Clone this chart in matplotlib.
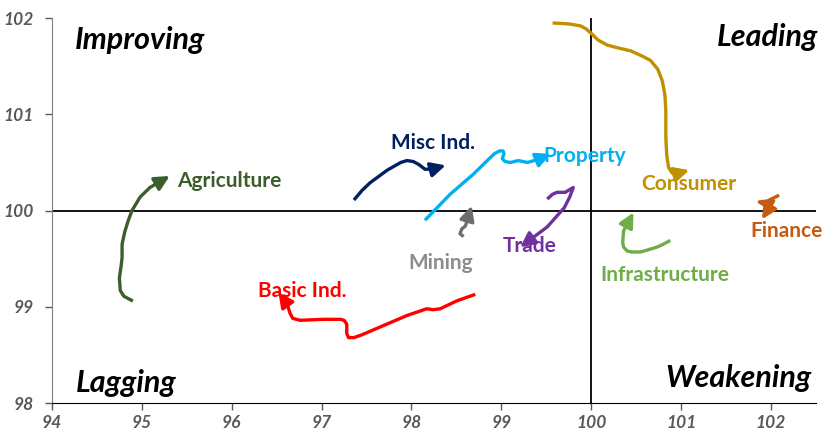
import matplotlib
matplotlib.use("Agg")
import matplotlib.pyplot as plt

# trails (x = RS-ratio, y = RS-momentum), last point is the arrow tip
agri_x = [94.90, 94.80, 94.76, 94.75, 94.77, 94.78, 94.78, 94.81, 94.85, 94.89, 94.98, 95.09, 95.31]
agri_y = [99.06, 99.11, 99.17, 99.30, 99.43, 99.51, 99.65, 99.78, 99.90, 100.00, 100.14, 100.24, 100.36]

basic_x = [98.71, 98.50, 98.32, 98.24, 98.17, 97.95, 97.65, 97.45, 97.36, 97.30, 97.28, 97.28, 97.25,
           97.21, 97.02, 96.76, 96.68, 96.65, 96.62, 96.52]
basic_y = [99.13, 99.06, 98.98, 98.97, 98.98, 98.91, 98.79, 98.71, 98.68, 98.68, 98.72, 98.82, 98.86,
           98.87, 98.87, 98.86, 98.88, 98.93, 99.02, 99.15]

misc_x = [97.36, 97.45, 97.54, 97.73, 97.88, 97.95, 98.02, 98.08, 98.15, 98.23, 98.38]
misc_y = [100.11, 100.21, 100.29, 100.42, 100.50, 100.52, 100.51, 100.48, 100.43, 100.43, 100.47]

prop_x = [98.15, 98.43, 98.69, 98.92, 98.98, 99.02, 99.03, 99.01, 99.04, 99.10, 99.19, 99.29, 99.40, 99.55]
prop_y = [99.90, 100.17, 100.38, 100.59, 100.62, 100.62, 100.59, 100.54, 100.51, 100.50, 100.52, 100.50, 100.53, 100.59]

mining_x = [98.58, 98.54, 98.56, 98.60, 98.62, 98.67]
mining_y = [99.73, 99.76, 99.81, 99.84, 99.90, 100.05]

trade_x = [99.51, 99.57, 99.62, 99.71, 99.80, 99.76, 99.70, 99.51, 99.21]
trade_y = [100.12, 100.17, 100.19, 100.19, 100.24, 100.14, 100.03, 99.83, 99.62]

cons_x = [99.57, 99.75, 99.88, 99.94, 99.99, 100.08, 100.18, 100.30, 100.44, 100.58, 100.66, 100.74,
          100.79, 100.82, 100.83, 100.83, 100.84, 100.86, 100.90, 100.94, 101.09]
cons_y = [101.95, 101.94, 101.92, 101.89, 101.85, 101.77, 101.72, 101.69, 101.66, 101.60, 101.56, 101.47,
          101.35, 101.20, 101.04, 100.76, 100.58, 100.45, 100.39, 100.38, 100.42]

infra_x = [100.88, 100.80, 100.73, 100.55, 100.45, 100.40, 100.36, 100.35, 100.36, 100.47]
infra_y = [99.69, 99.65, 99.62, 99.57, 99.57, 99.58, 99.62, 99.67, 99.79, 99.98]

fin_x = [102.09, 101.96, 101.87, 101.94, 102.03, 101.96, 101.90]
fin_y = [100.16, 100.10, 100.09, 100.05, 100.10, 100.00, 99.91]

x_ticks = [94, 95, 96, 97, 98, 99, 100, 101, 102]
y_ticks = [98, 99, 100, 101, 102]

sectors = [
    # name, xs, ys, color, label x, label y, ha
    ("Agriculture", agri_x, agri_y, "#3B5E2B", 95.39, 100.31, "left"),
    ("Basic Ind.", basic_x, basic_y, "#FF0000", 96.29, 99.16, "left"),
    ("Misc Ind.", misc_x, misc_y, "#002060", 98.24, 100.70, "center"),
    ("Property", prop_x, prop_y, "#00B0F0", 99.47, 100.57, "left"),
    ("Mining", mining_x, mining_y, "#6D6D6D", 98.33, 99.46, "center"),
    ("Trade", trade_x, trade_y, "#7030A0", 99.31, 99.63, "center"),
    ("Consumer", cons_x, cons_y, "#BF9000", 101.09, 100.28, "center"),
    ("Infrastructure", infra_x, infra_y, "#70AD47", 100.82, 99.33, "center"),
    ("Finance", fin_x, fin_y, "#C55A11", 102.58, 99.79, "right"),
]
label_colors = {"Mining": "#8C8C8C"}

fig = plt.figure(figsize=(8.25, 4.32), dpi=100)
ax = fig.add_axes([0.063, 0.067, 0.926, 0.891])

ax.axhline(100, color="black", lw=1.3, zorder=1)
ax.axvline(100, color="black", lw=1.3, zorder=1)

for name, xs, ys, c, lx, ly, ha in sectors:
    ax.plot(xs[:-1], ys[:-1], color=c, lw=2.4, solid_joinstyle="round",
            solid_capstyle="butt", zorder=3)
    ax.annotate("", xy=(xs[-1], ys[-1]), xytext=(xs[-2], ys[-2]),
                arrowprops=dict(arrowstyle="-|>", color=c, lw=2.4,
                                mutation_scale=22, shrinkA=0, shrinkB=0), zorder=3)
    ax.text(lx, ly, name, color=label_colors.get(name, c), fontsize=15,
            fontweight="bold", ha=ha, va="center", family="Lato", zorder=4,
            clip_on=False)

quad = dict(fontsize=22, fontweight="bold", fontstyle="italic", family="Lato",
            color="black", va="center")
ax.text(94.25, 101.77, "Improving", ha="left", **quad)
ax.text(102.53, 101.80, "Leading", ha="right", **quad)
ax.text(94.27, 98.21, "Lagging", ha="left", **quad)
ax.text(102.45, 98.26, "Weakening", ha="right", **quad)

ax.set_xlim(94, 102.5)
ax.set_ylim(98, 102)
ax.set_xticks(x_ticks)
ax.set_yticks(y_ticks)
for lab in ax.get_xticklabels() + ax.get_yticklabels():
    lab.set_fontweight("bold")
    lab.set_fontstyle("italic")
    lab.set_color("#595959")
    lab.set_fontsize(12.5)
    lab.set_family("Lato")
ax.tick_params(direction="out", length=5, color="#595959", width=1)
ax.tick_params(axis="y", pad=8)
ax.spines["top"].set_visible(False)
ax.spines["right"].set_visible(False)
ax.spines["left"].set_color("#7F7F7F")
ax.spines["bottom"].set_color("black")

fig.savefig("out.png", dpi=100)
